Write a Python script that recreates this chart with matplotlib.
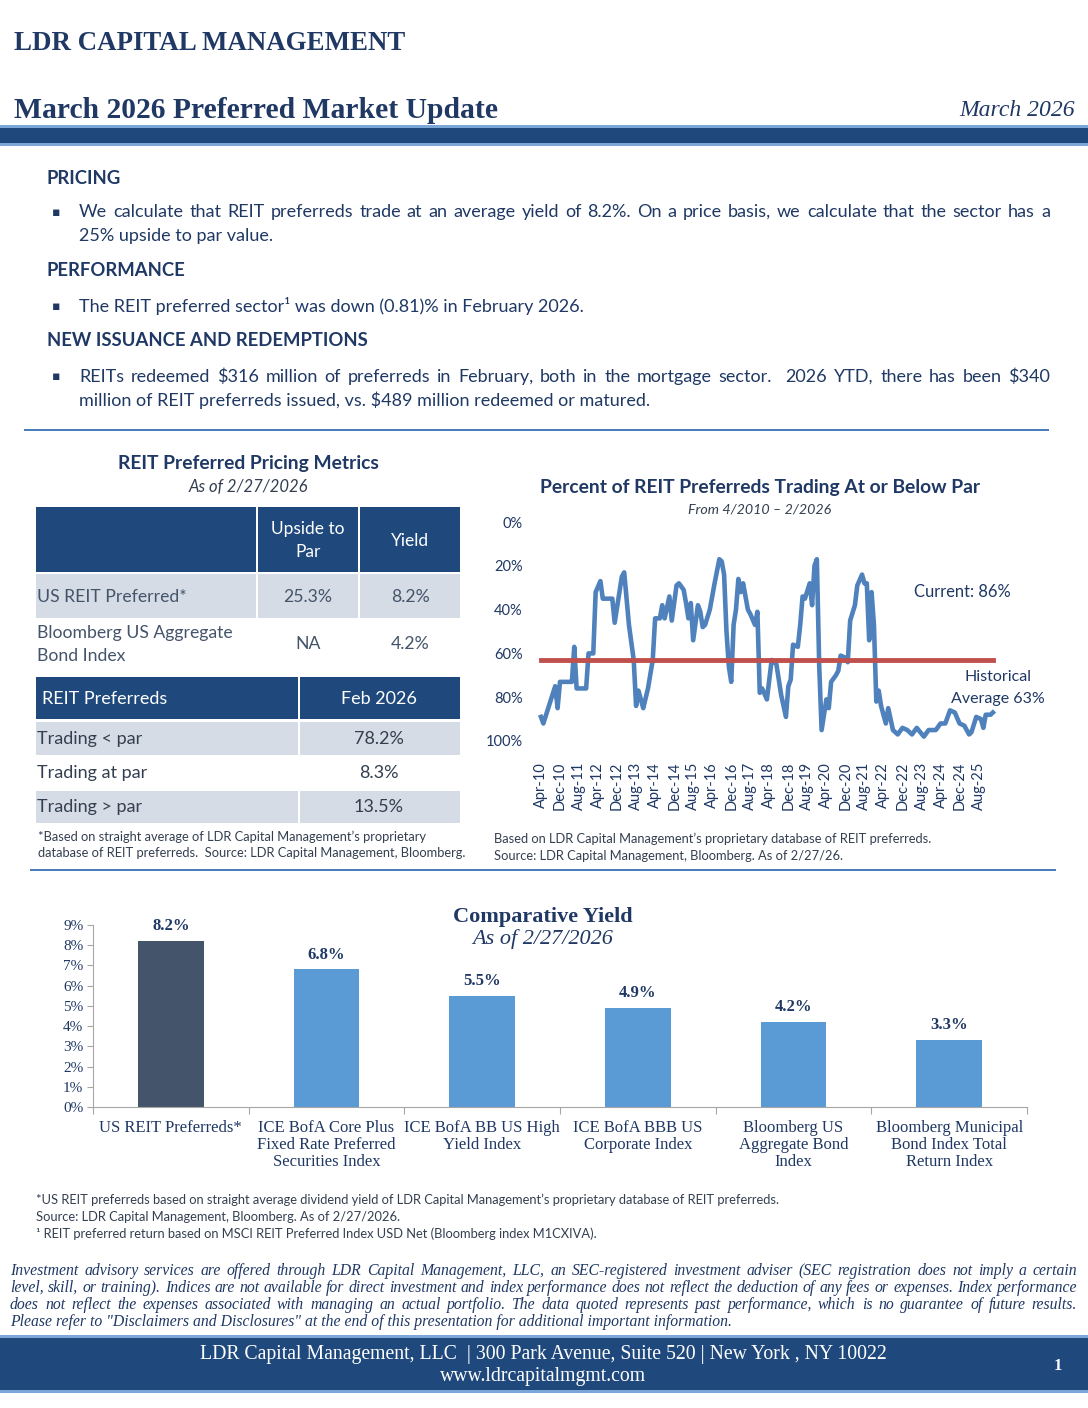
import matplotlib
matplotlib.use('Agg')
import matplotlib.pyplot as plt
from matplotlib.patches import Rectangle

# ---- data ----
# percent of REIT preferreds trading at or below par, by month offset from Apr-2010
month_no = [0, 1, 6, 7, 8, 13, 14, 15, 19, 20, 22, 23, 25, 26, 30, 31, 34, 35, 37, 39,
            40, 41, 42, 43, 45, 47, 48, 50, 51, 52, 54, 55, 57, 58, 60, 61, 62, 63, 64, 66,
            67, 68, 69, 71, 73, 75, 76, 77, 78, 79, 80, 81, 82, 83, 84, 85, 87, 88, 90, 91,
            92, 93, 95, 97, 99, 101, 103, 104, 105, 106, 108, 109, 110, 111, 113, 114, 115, 116, 117, 118,
            120, 121, 122, 124, 125, 126, 128, 129, 130, 132, 133, 135, 136, 137, 138, 139, 140, 141, 142, 143,
            145, 146, 148, 150, 152, 154, 156, 158, 161, 163, 166, 168, 170, 172, 174, 176, 178, 180, 181, 183,
            185, 186, 187, 189, 190]
pct_below_par = [89, 92, 75, 85, 73, 73, 57, 76, 76, 60, 60, 32, 27, 35, 35, 46, 25, 23, 47, 63,
                 84, 77, 81, 85, 76, 63, 44, 44, 38, 44, 34, 45, 29, 28, 31, 37, 44, 37, 54, 38,
                 41, 48, 47, 40, 28, 17, 18, 24, 50, 66, 73, 47, 40, 26, 32, 28, 40, 42, 47, 41,
                 78, 76, 81, 63, 65, 79, 89, 75, 72, 56, 57, 47, 34, 35, 28, 38, 20, 17, 66, 95,
                 81, 85, 73, 70, 68, 61, 62, 64, 45, 38, 29, 24, 28, 28, 54, 32, 47, 82, 77, 84,
                 92, 85, 95, 97, 94, 95, 97, 94, 98, 95, 95, 92, 92, 86, 87, 92, 93, 97, 96, 89,
                 90, 94, 88, 88, 87]
hist_avg = 63
x_tick_labels = ['Apr-10', 'Dec-10', 'Aug-11', 'Apr-12', 'Dec-12', 'Aug-13', 'Apr-14', 'Dec-14',
                 'Aug-15', 'Apr-16', 'Dec-16', 'Aug-17', 'Apr-18', 'Dec-18', 'Aug-19', 'Apr-20',
                 'Dec-20', 'Aug-21', 'Apr-22', 'Dec-22', 'Aug-23', 'Apr-24', 'Dec-24', 'Aug-25']

yield_names = ['US REIT Preferreds*', 'ICE BofA Core Plus\nFixed Rate Preferred\nSecurities Index',
               'ICE BofA BB US High\nYield Index', 'ICE BofA BBB US\nCorporate Index',
               'Bloomberg US\nAggregate Bond\nIndex', 'Bloomberg Municipal\nBond Index Total\nReturn Index']
yield_vals = [8.2, 6.8, 5.5, 4.9, 4.2, 3.3]

W, H = 1088, 1408
NAVY = '#1F3864'
BAND = '#1F497D'
LIGHT = '#7AA6D8'
SANS = 'Lato'
SERIF = 'Liberation Serif'

fig = plt.figure(figsize=(W / 100, H / 100), dpi=100)
renderer = fig.canvas.get_renderer()


def fx(x):
    return x / W


def fy(y):
    return 1 - y / H


def txt(x, y, s, **kw):
    kw.setdefault('va', 'center')
    kw.setdefault('color', NAVY)
    return fig.text(fx(x), fy(y), s, **kw)


def box(x0, y0, x1, y1, c):
    fig.patches.append(Rectangle((fx(x0), fy(y1)), fx(x1) - fx(x0), fy(y0) - fy(y1),
                                 transform=fig.transFigure, facecolor=c, edgecolor='none'))


def justify(x0, x1, y, s, **kw):
    words = s.split(' ')
    objs = [txt(x0, y, w, ha='left', **kw) for w in words]
    widths = [o.get_window_extent(renderer).width for o in objs]
    gap = (x1 - x0 - sum(widths)) / (len(words) - 1)
    pos = x0
    for o, w in zip(objs, widths):
        o.set_x(fx(pos))
        pos += w + gap


# ---- header ----
txt(14, 43, 'LDR CAPITAL MANAGEMENT', family=SERIF, fontsize=19.4, weight='bold')
txt(14, 110, 'March 2026 Preferred Market Update', family=SERIF, fontsize=21.3, weight='bold')
txt(1075, 111, 'March 2026', family=SERIF, fontsize=17, style='italic', ha='right')
box(0, 125, W, 128, LIGHT)
box(0, 128, W, 143, BAND)
box(0, 143, W, 146, LIGHT)

# ---- commentary ----
body = dict(family=SANS, fontsize=13)
head = dict(family=SANS, fontsize=13.3, weight='bold')
txt(47, 178, 'PRICING', **head)
txt(52, 212, '\u25aa', family='DejaVu Sans', fontsize=9)
justify(79, 1050, 212, 'We calculate that REIT preferreds trade at an average yield of 8.2%. '
        'On a price basis, we calculate that the sector has a', **body)
txt(79, 236, '25% upside to par value.', **body)
txt(47, 271, 'PERFORMANCE', **head)
txt(52, 306, '\u25aa', family='DejaVu Sans', fontsize=9)
txt(79, 306, 'The REIT preferred sector\u00b9 was down (0.81)% in February 2026.', **body)
txt(47, 341, 'NEW ISSUANCE AND REDEMPTIONS', **head)
txt(52, 377, '\u25aa', family='DejaVu Sans', fontsize=9)
justify(79, 1050, 377, 'REITs redeemed $316 million of preferreds in February, both in the mortgage sector.  '
        '2026 YTD, there has been $340', **body)
txt(79, 400, 'million of REIT preferreds issued, vs. $489 million redeemed or matured.', **body)
box(24, 429, 1049, 431, '#4A7EBB')

# ---- pricing table ----
GRAY = '#D6DCE5'
ROWTXT = '#44546A'
txt(248, 464, 'REIT Preferred Pricing Metrics', family=SANS, fontsize=13.9, weight='bold', ha='center')
txt(248, 487, 'As of 2/27/2026', family=SANS, fontsize=12, style='italic', ha='center', color='#333F50')
for a, b in [(36, 256), (258, 358), (360, 460)]:
    box(a, 507, b, 572, BAND)
    box(a, 574, b, 618, GRAY)
txt(308, 529, 'Upside to', family=SANS, fontsize=12.5, color='white', ha='center')
txt(308, 552, 'Par', family=SANS, fontsize=12.5, color='white', ha='center')
txt(410, 541, 'Yield', family=SANS, fontsize=12.5, color='white', ha='center')
lt = dict(family=SANS, fontsize=12.7, color=ROWTXT)
txt(37, 597, 'US REIT Preferred*', **lt)
txt(308, 597, '25.3%', ha='center', **lt)
txt(410, 597, '8.2%', ha='center', **lt)
txt(37, 633, 'Bloomberg US Aggregate', **lt)
txt(37, 656, 'Bond Index', **lt)
txt(308, 644, 'NA', ha='center', **lt)
txt(410, 644, '4.2%', ha='center', **lt)

for a, b in [(36, 298), (300, 460)]:
    box(a, 677, b, 719, BAND)
    box(a, 722, b, 755, GRAY)
    box(a, 791, b, 823, GRAY)
txt(42, 699, 'REIT Preferreds', family=SANS, fontsize=13, color='white')
txt(379, 699, 'Feb 2026', family=SANS, fontsize=13, color='white', ha='center')
rt = dict(family=SANS, fontsize=13, color='#333F50')
for yy, lab, val in [(739, 'Trading < par', '78.2%'), (773, 'Trading at par', '8.3%'),
                     (807, 'Trading > par', '13.5%')]:
    txt(37, yy, lab, **rt)
    txt(379, yy, val, ha='center', **rt)
fn = dict(family=SANS, fontsize=9.3, color='#333F50')
txt(38, 837, '*Based on straight average of LDR Capital Management\u2019s proprietary', **fn)
txt(38, 853, 'database of REIT preferreds.  Source: LDR Capital Management, Bloomberg.', **fn)

# ---- percent below par chart ----
txt(760, 487, 'Percent of REIT Preferreds Trading At or Below Par', family=SANS, fontsize=13.9,
    weight='bold', ha='center')
txt(760, 509, 'From 4/2010 \u2013 2/2026', family=SANS, fontsize=10.3, style='italic', ha='center',
    color='#333F50')
ax = fig.add_axes([fx(535), fy(741), fx(1000) - fx(535), fy(522) - fy(741)])
ax.plot(month_no, pct_below_par, color='#4F81BD', lw=3.3, solid_joinstyle='round', zorder=2)
ax.plot([month_no[0], month_no[-1]], [hist_avg, hist_avg], color='#C0504D', lw=3.5, zorder=3)
ax.set_ylim(100, 0)
ax.set_xlim(-2.5, 193)
ax.set_yticks(range(0, 101, 20))
ax.set_yticklabels(['%d%%' % v for v in range(0, 101, 20)])
ax.set_xticks(range(0, 8 * len(x_tick_labels), 8))
ax.set_xticklabels(x_tick_labels, rotation=90)
ax.tick_params(length=0, labelcolor=NAVY, labelsize=10.5)
ax.tick_params(axis='x', pad=15)
ax.tick_params(axis='y', pad=9)
for t in ax.get_xticklabels() + ax.get_yticklabels():
    t.set_family(SANS)
for s in ax.spines.values():
    s.set_visible(False)
ax.patch.set_alpha(0)
txt(962, 592, 'Current: 86%', family=SANS, fontsize=11.9, ha='center')
txt(998, 677, 'Historical', family=SANS, fontsize=11.5, ha='center')
txt(998, 699, 'Average 63%', family=SANS, fontsize=11.5, ha='center')
txt(494, 839, 'Based on LDR Capital Management\u2019s proprietary database of REIT preferreds.', **fn)
txt(494, 856, 'Source: LDR Capital Management, Bloomberg. As of 2/27/26.', **fn)
box(30, 869, 1056, 871, '#4A7EBB')

# ---- comparative yield chart ----
ax2 = fig.add_axes([fx(93), fy(1107), fx(1027) - fx(93), fy(925) - fy(1107)])
xs = range(len(yield_vals))
cols = ['#44546A'] + ['#5B9BD5'] * (len(yield_vals) - 1)
bars = ax2.bar(xs, yield_vals, width=0.42, color=cols)
for b, v in zip(bars, yield_vals):
    ax2.annotate('%.1f%%' % v, (b.get_x() + b.get_width() / 2, v), xytext=(0, 5),
                 textcoords='offset points', ha='center', va='bottom', family=SERIF,
                 fontsize=12, weight='bold', color=NAVY, annotation_clip=False)
ax2.set_xlim(-0.5, len(yield_vals) - 0.5)
ax2.set_ylim(0, 9)
ax2.set_yticks(range(10))
ax2.set_yticklabels(['%d%%' % v for v in range(10)], family=SERIF, fontsize=11)
ax2.set_xticks([i - 0.5 for i in range(len(yield_vals) + 1)])
ax2.set_xticklabels([])
ax2.set_xticks(list(xs), minor=True)
ax2.set_xticklabels(yield_names, minor=True, family=SERIF, fontsize=12, linespacing=1.1, va='top')
ax2.tick_params(axis='x', which='minor', length=0, pad=9, labelcolor=NAVY)
ax2.tick_params(axis='x', which='major', length=5, color='#A6A6A6')
ax2.tick_params(axis='y', length=4, color='#A6A6A6', labelcolor=NAVY, pad=3)
for s in ['top', 'right']:
    ax2.spines[s].set_visible(False)
for s in ['left', 'bottom']:
    ax2.spines[s].set_color('#A6A6A6')
ax2.patch.set_alpha(0)
txt(543, 917, 'Comparative Yield', family=SERIF, fontsize=16, weight='bold', ha='center')
txt(543, 939, 'As of 2/27/2026', family=SERIF, fontsize=16, style='italic', ha='center')

# ---- footnotes and disclaimer ----
txt(36, 1200, '*US REIT preferreds based on straight average dividend yield of LDR Capital '
    'Management\u2019s proprietary database of REIT preferreds.', **fn)
txt(36, 1217, 'Source: LDR Capital Management, Bloomberg. As of 2/27/2026.', **fn)
txt(36, 1234, '\u00b9 REIT preferred return based on MSCI REIT Preferred Index USD Net '
    '(Bloomberg index M1CXIVA).', **fn)
dis = dict(family=SERIF, fontsize=11.3, style='italic', color=NAVY)
justify(10, 1077, 1271, 'Investment advisory services are offered through LDR Capital Management, LLC, '
        'an SEC-registered investment adviser (SEC registration does not imply a certain', **dis)
justify(10, 1077, 1288, 'level, skill, or training). Indices are not available for direct investment and '
        'index performance does not reflect the deduction of any fees or expenses. Index performance', **dis)
justify(10, 1077, 1305, 'does not reflect the expenses associated with managing an actual portfolio. '
        'The data quoted represents past performance, which is no guarantee of future results.', **dis)
txt(10, 1322, 'Please refer to "Disclaimers and Disclosures" at the end of this presentation for '
    'additional important information.', **dis)

# ---- footer ----
box(0, 1335, W, 1338, LIGHT)
box(0, 1338, W, 1390, BAND)
box(0, 1390, W, 1393, LIGHT)
txt(543, 1355, 'LDR Capital Management, LLC  | 300 Park Avenue, Suite 520 | New York , NY 10022',
    family=SERIF, fontsize=14.2, color='white', ha='center')
txt(543, 1377, 'www.ldrcapitalmgmt.com', family=SERIF, fontsize=14.2, color='white', ha='center')
txt(1058, 1366, '1', family=SERIF, fontsize=12, weight='bold', color='white', ha='center')

fig.savefig('out.png', dpi=100)
plt.close()
